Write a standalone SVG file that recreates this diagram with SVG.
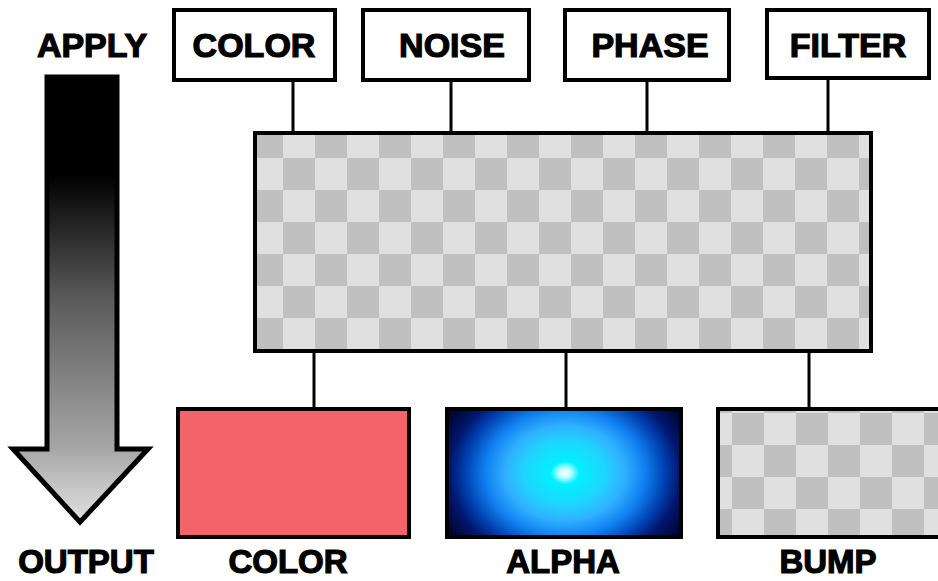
<svg xmlns="http://www.w3.org/2000/svg" width="938" height="581" viewBox="0 0 938 581">
  <defs>
    <style>
      .lbl { font-family: "Liberation Sans", Arial, sans-serif; font-weight: bold; font-size: 34px; fill: #000; stroke: #000; stroke-width: 1.2; text-anchor: middle; }
      .bot { font-size: 33px; }
      .box { fill: #fff; stroke: #000; stroke-width: 4; }
      .frame { stroke: #000; stroke-width: 4; }
      .conn { stroke: #000; stroke-width: 3; fill: none; }
    </style>
    <pattern id="checkBig" patternUnits="userSpaceOnUse" x="251" y="126" width="64" height="64">
      <rect width="64" height="64" fill="#e0e0e0"/>
      <rect width="32" height="32" fill="#c0c0c0"/>
      <rect x="32" y="32" width="32" height="32" fill="#c0c0c0"/>
    </pattern>
    <pattern id="checkBump" patternUnits="userSpaceOnUse" x="732" y="413" width="64" height="64">
      <rect width="64" height="64" fill="#e0e0e0"/>
      <rect width="32" height="32" fill="#c0c0c0"/>
      <rect x="32" y="32" width="32" height="32" fill="#c0c0c0"/>
    </pattern>
    <linearGradient id="arrowGrad" gradientUnits="userSpaceOnUse" x1="0" y1="77" x2="0" y2="522">
      <stop offset="0" stop-color="#000"/>
      <stop offset="0.22" stop-color="#000"/>
      <stop offset="0.5" stop-color="#5a5a5a"/>
      <stop offset="0.84" stop-color="#a8a8a8"/>
      <stop offset="1" stop-color="#e2e2e2"/>
    </linearGradient>
    <radialGradient id="alphaGrad" gradientUnits="userSpaceOnUse" cx="565" cy="473" r="145" gradientTransform="translate(565 473) scale(1 0.8) translate(-565 -473)">
      <stop offset="0" stop-color="#ffffff"/>
      <stop offset="0.04" stop-color="#c0ffff"/>
      <stop offset="0.1" stop-color="#00f0ff"/>
      <stop offset="0.28" stop-color="#20d4ff"/>
      <stop offset="0.41" stop-color="#30b0ff"/>
      <stop offset="0.55" stop-color="#1080f0"/>
      <stop offset="0.69" stop-color="#0040b0"/>
      <stop offset="0.79" stop-color="#001870"/>
      <stop offset="0.9" stop-color="#000840"/>
      <stop offset="1" stop-color="#000010"/>
    </radialGradient>
  </defs>

  <rect width="938" height="581" fill="#fff"/>

  <g id="connectors">
    <line class="conn" x1="293" y1="80" x2="293" y2="132"/>
    <line class="conn" x1="451" y1="80" x2="451" y2="132"/>
    <line class="conn" x1="647" y1="80" x2="647" y2="132"/>
    <line class="conn" x1="828" y1="80" x2="828" y2="132"/>
    <line class="conn" x1="314" y1="351" x2="314" y2="409"/>
    <line class="conn" x1="566" y1="351" x2="566" y2="409"/>
    <line class="conn" x1="809" y1="351" x2="809" y2="409"/>
  </g>

  <g id="apply-arrow">
    <text class="lbl" x="92" y="57">APPLY</text>
    <path d="M47,77 L117,77 L117,449 L148,449 L80,522 L13,449 L47,449 Z" fill="url(#arrowGrad)" stroke="#000" stroke-width="5" stroke-linejoin="miter"/>
    <text class="lbl bot" x="86" y="573">OUTPUT</text>
  </g>

  <g id="in-color">
    <rect class="box" x="174" y="10" width="161" height="70"/>
    <text class="lbl" x="254" y="57">COLOR</text>
  </g>
  <g id="in-noise">
    <rect class="box" x="363" y="10" width="166" height="70"/>
    <text class="lbl" x="452" y="57">NOISE</text>
  </g>
  <g id="in-phase">
    <rect class="box" x="565" y="10" width="164" height="70"/>
    <text class="lbl" x="650" y="57">PHASE</text>
  </g>
  <g id="in-filter">
    <rect class="box" x="767" y="10" width="162" height="68"/>
    <text class="lbl" x="848" y="57">FILTER</text>
  </g>

  <g id="texture">
    <rect class="frame" x="255" y="133" width="616" height="218" fill="url(#checkBig)"/>
  </g>

  <g id="out-color">
    <rect class="frame" x="178" y="409" width="231" height="128" fill="#f2646a"/>
    <text class="lbl bot" x="288" y="573">COLOR</text>
  </g>
  <g id="out-alpha">
    <rect class="frame" x="447" y="409" width="234" height="128" fill="url(#alphaGrad)"/>
    <text class="lbl bot" x="563" y="573">ALPHA</text>
  </g>
  <g id="out-bump">
    <rect class="frame" x="718" y="409" width="240" height="128" fill="url(#checkBump)"/>
    <text class="lbl bot" x="828" y="573">BUMP</text>
  </g>
</svg>
